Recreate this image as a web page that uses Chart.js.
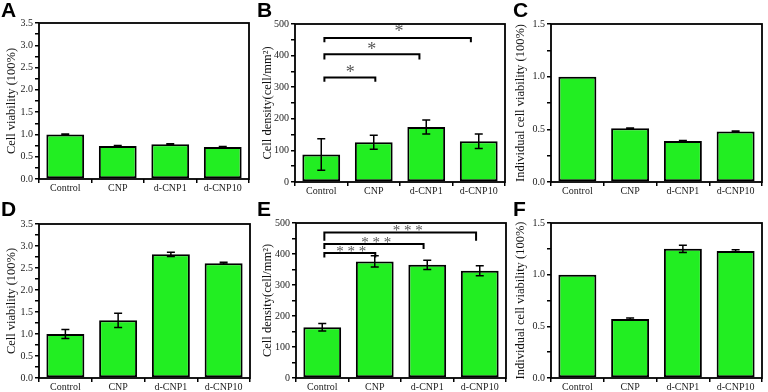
<!DOCTYPE html>
<html>
<head>
<meta charset="utf-8">
<script src="https://cdn.jsdelivr.net/npm/chart.js@4.4.0/dist/chart.umd.min.js"></script>
<style>
    body { margin: 0; background: #fff; width: 768px; height: 392px; position: relative; overflow: hidden; }
    canvas { position: absolute; }
</style>
</head>
<body>
<canvas id="painelA" width="256" height="196" style="left:0;top:0"></canvas>
<canvas id="painelB" width="256" height="196" style="left:256px;top:0"></canvas>
<canvas id="painelC" width="256" height="196" style="left:512px;top:0"></canvas>
<canvas id="painelD" width="256" height="196" style="left:0;top:196px"></canvas>
<canvas id="painelE" width="256" height="196" style="left:256px;top:196px"></canvas>
<canvas id="painelF" width="256" height="196" style="left:512px;top:196px"></canvas>
<script>
//Categorias comuns a todos os gráficos
const categorias = ['Control', 'CNP', 'd-CNP1', 'd-CNP10'];

//Dados de cada painel (valor médio e barra de erro)
const valoresA = [1.00, 0.74, 0.78, 0.72];
const errosA = [0.01, 0.01, 0.01, 0.01];
const valoresB = [87, 126, 174, 129];
const errosB = [50, 22, 22, 23];
const valoresC = [1.00, 0.51, 0.39, 0.48];
const errosC = [0, 0.003, 0.003, 0.005];
const valoresD = [1.00, 1.31, 2.81, 2.61];
const errosD = [0.10, 0.16, 0.05, 0.02];
const valoresE = [164, 376, 365, 346];
const errosE = [12, 18, 15, 16];
const valoresF = [1.00, 0.57, 1.25, 1.23];
const errosF = [0, 0.01, 0.035, 0.01];

//Marcas principais do eixo Y
const ticksViabilidade = [0, 0.5, 1.0, 1.5, 2.0, 2.5, 3.0, 3.5];
const ticksDensidade = [0, 100, 200, 300, 400, 500];
const ticksIndividual = [0, 0.5, 1.0, 1.5];

//Colchetes de significância (de/até em índice de categoria)
const colchetesB = [
    { de: 0.06, ate: 1.03, y: 331, desce: 14, texto: '*', textoX: 0.55, textoY: 356 },
    { de: 0.06, ate: 1.87, y: 404, desce: 16, texto: '*', textoX: 0.96, textoY: 428 },
    { de: 0.06, ate: 2.85, y: 456, desce: 14, texto: '*', textoX: 1.48, textoY: 486 }
];
const colchetesE = [
    { de: 0.04, ate: 1.01, y: 403, desce: 14, texto: '* * *', textoX: 0.55, textoY: 416 },
    { de: 0.04, ate: 1.93, y: 432, desce: 16, texto: '* * *', textoX: 1.03, textoY: 445 },
    { de: 0.04, ate: 2.93, y: 469, desce: 26, texto: '* * *', textoX: 1.63, textoY: 483 }
];

//Plugin: moldura, barras de erro, colchetes e letra do painel
const extras = {
    id: 'extras',
    afterDatasetsDraw(chart, args, opts) {
        const ctx = chart.ctx;
        const y = chart.scales.y;
        const x = chart.scales.x;
        const meta = chart.getDatasetMeta(0);
        const erros = chart.data.datasets[0].erros;
        const valores = chart.data.datasets[0].data;
        ctx.save();
        ctx.strokeStyle = '#000';
        ctx.lineWidth = 1.5;
        meta.data.forEach((barra, i) => {
            if (!erros[i]) return;
            const y1 = y.getPixelForValue(valores[i] + erros[i]);
            const y2 = y.getPixelForValue(valores[i] - erros[i]);
            ctx.beginPath();
            ctx.moveTo(barra.x, y1); ctx.lineTo(barra.x, y2);
            ctx.moveTo(barra.x - 4, y1); ctx.lineTo(barra.x + 4, y1);
            ctx.moveTo(barra.x - 4, y2); ctx.lineTo(barra.x + 4, y2);
            ctx.stroke();
        });
        //Colchetes
        const p0 = x.getPixelForValue(0);
        const passo = x.getPixelForValue(1) - p0;
        (opts.colchetes || []).forEach(c => {
            const xa = p0 + passo * c.de, xb = p0 + passo * c.ate;
            const yc = y.getPixelForValue(c.y), yd = y.getPixelForValue(c.y - c.desce);
            ctx.lineWidth = 2;
            ctx.beginPath();
            ctx.moveTo(xa, yd); ctx.lineTo(xa, yc); ctx.lineTo(xb, yc); ctx.lineTo(xb, yd);
            ctx.stroke();
            const tam = c.texto.length > 1 ? 15 : 18;
            ctx.fillStyle = '#555';
            ctx.font = tam + 'px "Liberation Serif"';
            ctx.textAlign = 'center';
            ctx.textBaseline = 'alphabetic';
            ctx.fillText(c.texto, p0 + passo * c.textoX, y.getPixelForValue(c.textoY) + tam * 0.47);
        });
        ctx.restore();
    },
    afterDraw(chart, args, opts) {
        const ctx = chart.ctx;
        const a = chart.chartArea;
        ctx.save();
        ctx.strokeStyle = '#000';
        ctx.lineWidth = 1.8;
        ctx.strokeRect(a.left, a.top, a.right - a.left, a.bottom - a.top);
        ctx.fillStyle = '#000';
        ctx.font = 'bold 21px "Liberation Sans"';
        ctx.textAlign = 'left';
        ctx.textBaseline = 'alphabetic';
        ctx.fillText(opts.letra, 1, opts.letraY);
        ctx.restore();
    }
};

//Função que monta um painel
function criarPainel(id, letra, tituloY, valores, erros, ticksY, casas, colchetes, caixa) {
    const fonteTick = { family: 'Liberation Serif', size: 10 };
    return new Chart(document.getElementById(id), {
        type: 'bar',
        data: {
            labels: categorias,
            datasets: [{
                data: valores,
                erros: erros,
                backgroundColor: '#22ee22',
                borderColor: '#000',
                borderWidth: 2,
                borderSkipped: false,
                barPercentage: 0.72,
                categoryPercentage: 1
            }]
        },
        options: {
            responsive: false,
            animation: false,
            layout: { padding: { top: caixa.topo, right: caixa.direita, left: 0, bottom: 0 } },
            plugins: {
                legend: { display: false },
                tooltip: { enabled: false },
                extras: { letra: letra, letraY: caixa.letraY, colchetes: colchetes }
            },
            scales: {
                x: {
                    grid: { drawOnChartArea: false, color: '#000', tickLength: 4, lineWidth: 1.5 },
                    border: { display: false },
                    ticks: { font: fonteTick, color: '#222', padding: -1, maxRotation: 0 },
                    afterFit: s => { s.height = caixa.alturaX; }
                },
                y: {
                    min: ticksY[0],
                    max: ticksY[ticksY.length - 1],
                    grid: { drawOnChartArea: false, color: '#000', tickLength: 4, lineWidth: 1.5 },
                    border: { display: false },
                    ticks: {
                        autoSkip: false,
                        font: fonteTick,
                        color: '#222',
                        padding: 2,
                        callback: v => ticksY.some(t => Math.abs(t - v) < 1e-9) ? v.toFixed(casas) : ''
                    },
                    afterBuildTicks: s => {
                        const t = [];
                        ticksY.forEach((v, i) => {
                            t.push({ value: v });
                            if (i < ticksY.length - 1) t.push({ value: (v + ticksY[i + 1]) / 2 });
                        });
                        s.ticks = t;
                    },
                    afterFit: s => { s.width = caixa.esquerda; },
                    title: {
                        display: true,
                        text: tituloY,
                        color: '#111',
                        font: { family: 'Liberation Serif', size: 12.5 },
                        padding: { top: caixa.tituloPad, bottom: 0 }
                    }
                }
            }
        },
        plugins: [extras]
    });
}

const graficoA = criarPainel('painelA', 'A', 'Cell viability (100%)', valoresA, errosA, ticksViabilidade, 1, [],
    { topo: 23, direita: 7, esquerda: 39, alturaX: 17, letraY: 17, tituloPad: 4 });
const graficoB = criarPainel('painelB', 'B', 'Cell density(cell/mm²)', valoresB, errosB, ticksDensidade, 0, colchetesB,
    { topo: 24, direita: 7, esquerda: 39, alturaX: 14, letraY: 17, tituloPad: 4 });
const graficoC = criarPainel('painelC', 'C', 'Individual cell viability (100%)', valoresC, errosC, ticksIndividual, 1, [],
    { topo: 24, direita: 6, esquerda: 39, alturaX: 14, letraY: 17, tituloPad: 1.5 });
const graficoD = criarPainel('painelD', 'D', 'Cell viability (100%)', valoresD, errosD, ticksViabilidade, 1, [],
    { topo: 28, direita: 6, esquerda: 39, alturaX: 14, letraY: 20, tituloPad: 4 });
const graficoE = criarPainel('painelE', 'E', 'Cell density(cell/mm²)', valoresE, errosE, ticksDensidade, 0, colchetesE,
    { topo: 27, direita: 6, esquerda: 40, alturaX: 14, letraY: 20, tituloPad: 4 });
const graficoF = criarPainel('painelF', 'F', 'Individual cell viability (100%)', valoresF, errosF, ticksIndividual, 1, [],
    { topo: 27, direita: 6, esquerda: 39, alturaX: 14, letraY: 20, tituloPad: 1.5 });
</script>
</body>
</html>
